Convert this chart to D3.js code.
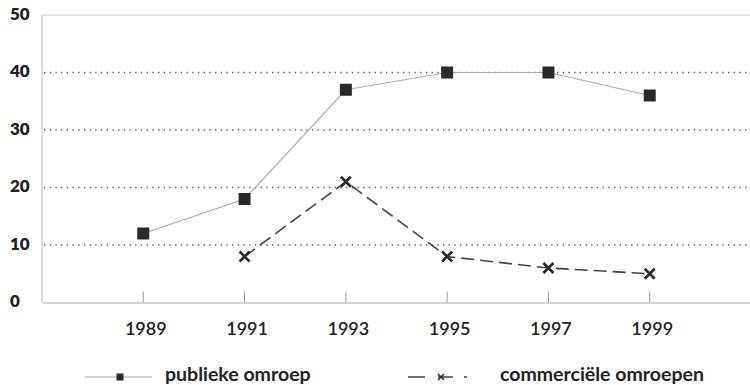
<!DOCTYPE html>
<html><head><meta charset="utf-8">
<script src="https://cdn.jsdelivr.net/npm/d3@7"></script>
<style>body{margin:0;background:#fff}svg{display:block}</style>
</head><body><svg id="c" width="750" height="385"></svg>
<script>
const years = [1989, 1991, 1993, 1995, 1997, 1999];
const publiek = [12, 18, 37, 40, 40, 36];
const commercYears = [1991, 1993, 1995, 1997, 1999];
const commercieel = [8, 21, 8, 6, 5];
const yTicks = [0, 10, 20, 30, 40, 50];
const seriesNames = ["publieke omroep", "commerciële omroepen"];

const svg = d3.select("#c");
const font = "Lato, 'Open Sans', sans-serif";
const x = d3.scaleLinear().domain([1987, 2001]).range([42, 751]);
const y = d3.scaleLinear().domain([0, 50]).range([302.5, 15]);

// frame
svg.append("line").attr("x1", 42).attr("x2", 750).attr("y1", y(50)).attr("y2", y(50)).attr("stroke", "#ccc").attr("stroke-width", 1);
svg.append("line").attr("x1", 42).attr("x2", 42).attr("y1", y(50)).attr("y2", y(0)).attr("stroke", "#bbb").attr("stroke-width", 1);

// gridlines
svg.selectAll(".grid").data(yTicks.filter(d => d > 0 && d < 50)).enter().append("line")
  .attr("x1", 44).attr("x2", 750).attr("y1", d => y(d)).attr("y2", d => y(d))
  .attr("stroke", "#555").attr("stroke-width", 1.3).attr("stroke-dasharray", "1.3,4.4");

// x axis
const xAxis = d3.axisBottom(x).tickValues(years).tickSize(0).tickFormat(d3.format("d")).tickPadding(20);
const gx = svg.append("g").attr("transform", `translate(0,${y(0)})`).call(xAxis);
gx.select(".domain").attr("stroke", "#aaa");
gx.selectAll("text").attr("font-family", font).attr("font-size", 18).attr("font-weight", 600).attr("fill", "#222").attr("dx", 2);
svg.selectAll(".xt").data(years).enter().append("line")
  .attr("x1", d => x(d)).attr("x2", d => x(d)).attr("y1", y(0)).attr("y2", y(0) - 11)
  .attr("stroke", "#999").attr("stroke-width", 1);

// y axis labels
const yAxis = d3.axisLeft(y).tickValues(yTicks).tickSize(0).tickPadding(8);
const gy = svg.append("g").attr("transform", "translate(42,0)").call(yAxis);
gy.select(".domain").remove();
gy.selectAll("text").attr("font-family", font).attr("font-size", 17).attr("font-weight", 800).attr("fill", "#222").attr("text-anchor", "start").attr("x", -32).attr("dy", "0.25em");

// lines
const linePub = d3.line().x((d, i) => x(years[i])).y(d => y(d));
svg.append("path").attr("d", linePub(publiek)).attr("fill", "none").attr("stroke", "#aaa").attr("stroke-width", 1.2);
const lineCom = d3.line().x((d, i) => x(commercYears[i])).y(d => y(d));
svg.append("path").attr("d", lineCom(commercieel)).attr("fill", "none").attr("stroke", "#444").attr("stroke-width", 1.6).attr("stroke-dasharray", "13,6");

// markers
const sq = 12;
svg.selectAll(".sq").data(publiek).enter().append("rect")
  .attr("x", (d, i) => x(years[i]) - sq / 2).attr("y", d => y(d) - sq / 2)
  .attr("width", sq).attr("height", sq).attr("fill", "#2a2a2a");
function cross(g, cx, cy, r, w) {
  g.append("path").attr("d", `M${cx - r},${cy - r}L${cx + r},${cy + r}M${cx - r},${cy + r}L${cx + r},${cy - r}`)
    .attr("stroke", "#2a2a2a").attr("stroke-width", w).attr("fill", "none");
}
commercieel.forEach((d, i) => cross(svg, x(commercYears[i]), y(d), 5, 2.6));

// legend
const ly = 377;
svg.append("line").attr("x1", 85).attr("x2", 152).attr("y1", ly).attr("y2", ly).attr("stroke", "#aaa").attr("stroke-width", 1.2);
svg.append("rect").attr("x", 116.5).attr("y", ly - 3.5).attr("width", 7).attr("height", 7).attr("fill", "#2a2a2a");
svg.append("text").attr("x", 165).attr("y", ly + 4).text(seriesNames[0])
  .attr("font-family", font).attr("font-size", 19.5).attr("font-weight", 700).attr("fill", "#222");
svg.append("line").attr("x1", 408).attr("x2", 470).attr("y1", ly).attr("y2", ly).attr("stroke", "#444").attr("stroke-width", 1.6).attr("stroke-dasharray", "17,13,15,11,3");
cross(svg, 441, ly, 3, 1.6);
svg.append("text").attr("x", 500).attr("y", ly + 4).text(seriesNames[1])
  .attr("font-family", font).attr("font-size", 19.5).attr("font-weight", 700).attr("fill", "#222");
</script></body></html>
